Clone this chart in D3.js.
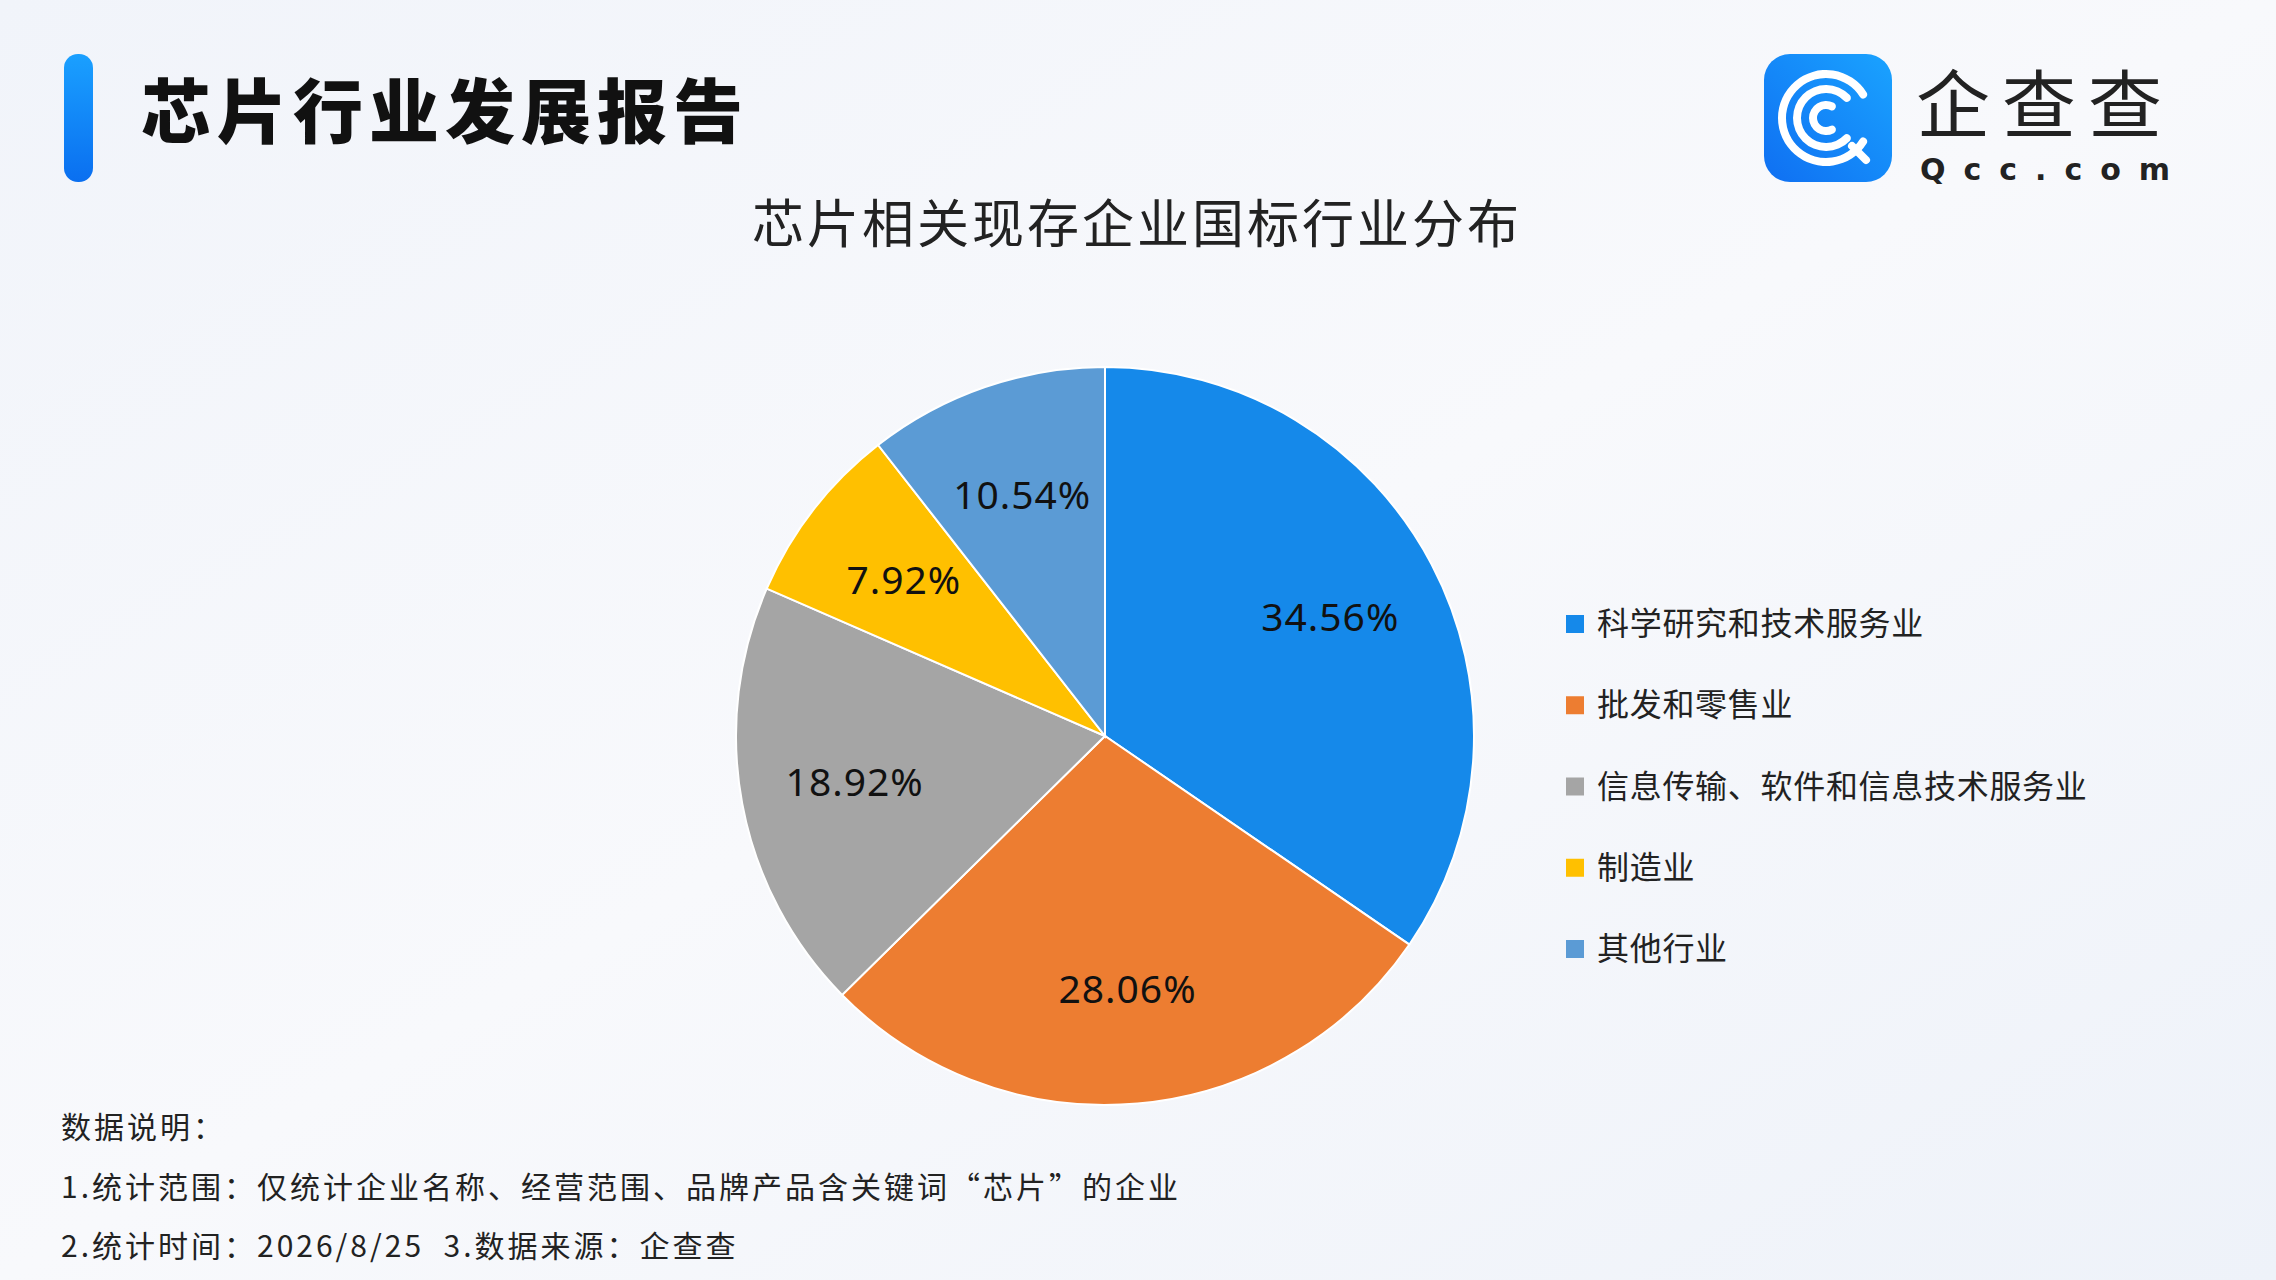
<!DOCTYPE html>
<html><head><meta charset="utf-8">
<script src="https://cdn.jsdelivr.net/npm/d3@7"></script>
<style>body{margin:0;background:#f4f6fb;font-family:"Noto Sans CJK SC","Noto Sans",sans-serif}</style>
</head><body>
<svg id="plot" width="2276" height="1280"></svg>
<script>
const categories = ["科学研究和技术服务业", "批发和零售业", "信息传输、软件和信息技术服务业", "制造业", "其他行业"];
const values = [34.56, 28.06, 18.92, 7.92, 10.54];
const colors = ["#1589ea", "#ed7d31", "#a5a5a5", "#ffc000", "#5b9bd5"];
const notes = ["数据说明：", "1.统计范围：仅统计企业名称、经营范围、品牌产品含关键词“芯片”的企业", "2.统计时间：2026/8/25  3.数据来源：企查查"];

const svg = d3.select("#plot");
const defs = svg.append("defs");
const bg = defs.append("linearGradient").attr("id", "bg").attr("x1", 0).attr("y1", 0).attr("x2", 1).attr("y2", 1);
bg.append("stop").attr("offset", 0).attr("stop-color", "#f1f4fa");
bg.append("stop").attr("offset", 0.5).attr("stop-color", "#f8f9fc");
bg.append("stop").attr("offset", 1).attr("stop-color", "#eef2f9");
svg.append("rect").attr("width", 2276).attr("height", 1280).attr("fill", "url(#bg)");

const bar = defs.append("linearGradient").attr("id", "bar").attr("x1", 0).attr("y1", 0).attr("x2", 0).attr("y2", 1);
bar.append("stop").attr("offset", 0).attr("stop-color", "#1aa0ff");
bar.append("stop").attr("offset", 1).attr("stop-color", "#0a6ff0");
svg.append("rect").attr("x", 64).attr("y", 54).attr("width", 29).attr("height", 128).attr("rx", 14).attr("fill", "url(#bar)");
svg.append("text").attr("x", 141).attr("y", 138).attr("font-size", 70).attr("font-weight", 900)
  .attr("letter-spacing", 6).attr("fill", "#111").text("芯片行业发展报告");

// logo
const logo = svg.append("g").attr("transform", "translate(1764,54)");
const lg = defs.append("linearGradient").attr("id", "lg").attr("x1", 0).attr("y1", 1).attr("x2", 1).attr("y2", 0);
lg.append("stop").attr("offset", 0).attr("stop-color", "#0f6ff2");
lg.append("stop").attr("offset", 1).attr("stop-color", "#1aa3ff");
logo.append("rect").attr("width", 128).attr("height", 128).attr("rx", 26).attr("fill", "url(#lg)");
[[44, 0.15], [29, 0.2], [13, 0.25]].forEach(([r, gap]) => {
  logo.append("path").attr("transform", "translate(62,64)")
    .attr("d", d3.arc().innerRadius(r - 4).outerRadius(r + 4).startAngle(Math.PI * (0.5 + gap)).endAngle(Math.PI * (2.5 - gap)).cornerRadius(4)())
    .attr("fill", "#fff");
});
logo.append("line").attr("x1", 88).attr("y1", 92).attr("x2", 102).attr("y2", 106).attr("stroke", "#fff").attr("stroke-width", 8).attr("stroke-linecap", "round");
logo.append("text").attr("x", 152).attr("y", 78).attr("font-size", 74).attr("fill", "#222").attr("letter-spacing", 12).text("企查查");
logo.append("text").attr("x", 156).attr("y", 126).attr("font-size", 30).attr("font-family", "DejaVu Sans").attr("font-weight", "bold")
  .attr("fill", "#222").attr("letter-spacing", 18).text("Qcc.com");

svg.append("text").attr("x", 1137).attr("y", 243).attr("text-anchor", "middle").attr("font-size", 52).attr("fill", "#222")
  .attr("letter-spacing", 3).text("芯片相关现存企业国标行业分布");

// pie
const data = categories.map((c, i) => ({ c, v: values[i], col: colors[i] }));
const pie = d3.pie().value(d => d.v).sort(null);
const R = 369;
const arc = d3.arc().innerRadius(0).outerRadius(R);
const labelArc = d3.arc().innerRadius(R * 0.69).outerRadius(R * 0.69);
const g = svg.append("g").attr("transform", "translate(1105,736)");
const arcs = pie(data);
g.selectAll("path").data(arcs).join("path").attr("d", arc).attr("fill", d => d.data.col)
  .attr("stroke", "#fff").attr("stroke-width", 2);
g.selectAll("text").data(arcs).join("text")
  .attr("transform", d => `translate(${labelArc.centroid(d)})`)
  .attr("text-anchor", "middle").attr("dy", "0.35em").attr("font-size", 39).attr("fill", "#111")
  .attr("font-family", "Noto Sans").attr("letter-spacing", 1).text(d => d.data.v.toFixed(2) + "%");

// legend
const y = d3.scalePoint().domain(categories).range([624, 949]);
const leg = svg.append("g").selectAll("g").data(data).join("g").attr("transform", d => `translate(1566,${y(d.c)})`);
leg.append("rect").attr("y", -9).attr("width", 18).attr("height", 18).attr("fill", d => d.col);
leg.append("text").attr("x", 31).attr("dy", "0.35em").attr("font-size", 32).attr("letter-spacing", 0.7).attr("fill", "#222").text(d => d.c);

svg.append("g").selectAll("text").data(notes).join("text")
  .attr("x", 61).attr("y", (d, i) => 1138 + i * 59.5).attr("font-size", 30).attr("letter-spacing", 3)
  .attr("xml:space", "preserve").style("white-space", "pre").attr("fill", "#222").text(d => d);
</script>
</body></html>
